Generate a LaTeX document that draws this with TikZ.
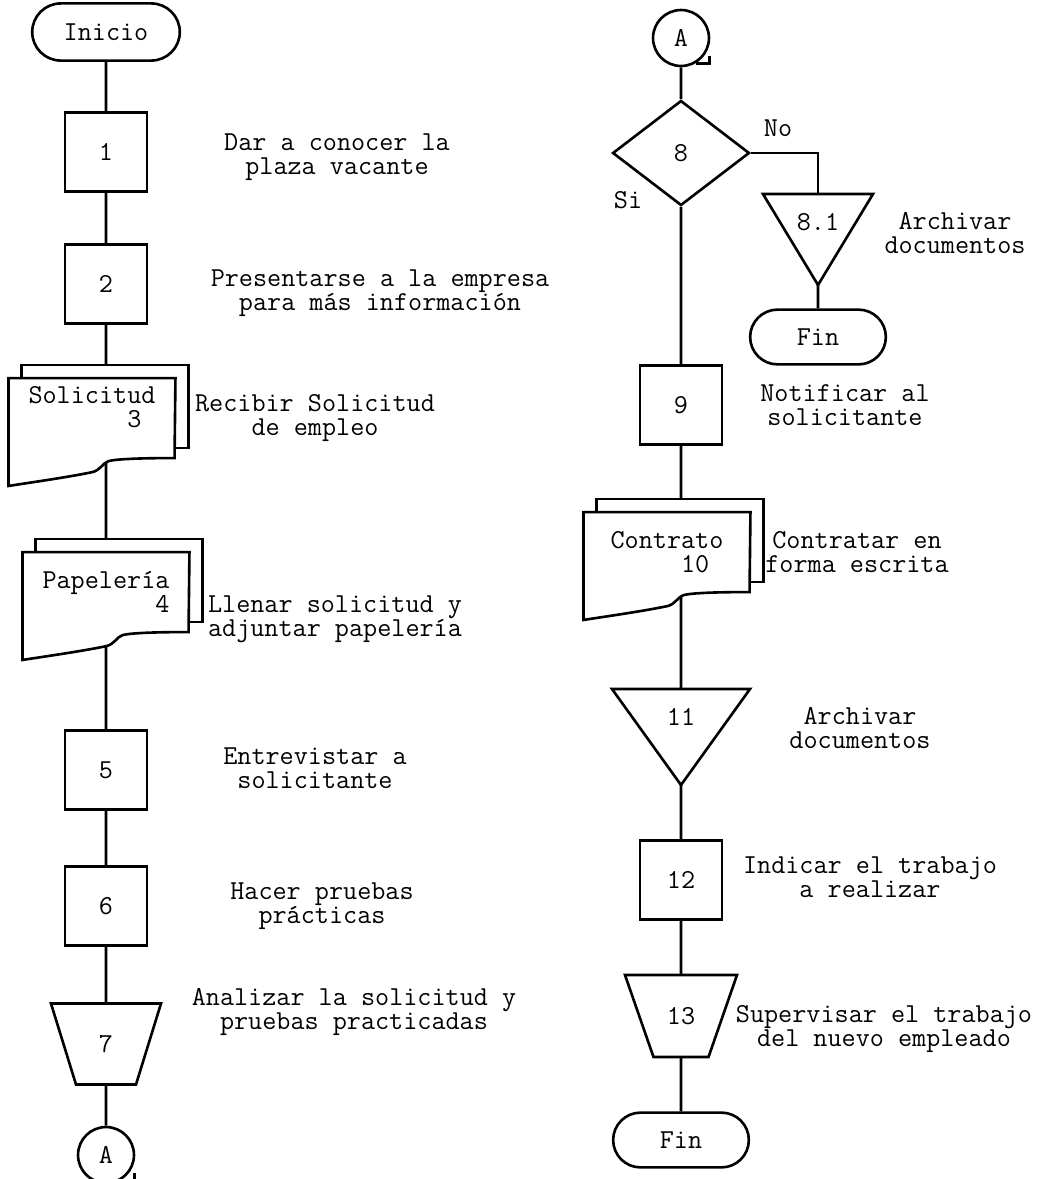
\documentclass[tikz,border=0pt]{standalone}
\usepackage{fontspec}
\usepackage{tikz}
\usetikzlibrary{shapes.geometric, shapes.misc, positioning, calc, backgrounds}

\tikzset{
  flow/.style={line width=1.1pt},
  term/.style={draw, line width=1.1pt, fill=white, rounded rectangle, minimum width=57pt, minimum height=23pt, inner sep=0pt},
  procbox/.style={draw, line width=1.1pt, fill=white, minimum width=34.4pt, minimum height=33.2pt, inner sep=0pt},
  decision/.style={draw, line width=1.1pt, fill=white, diamond, minimum width=57.5pt, minimum height=44.1pt, inner sep=0pt},
  conn/.style={draw, line width=1.1pt, fill=white, circle, minimum size=23.5pt, inner sep=0pt},
  docnode/.style={minimum width=69.7pt, minimum height=44.9pt, inner sep=0pt},
  shapetext/.style={inner sep=0pt},
  doctext/.style={align=left, inner sep=0pt},
  note/.style={align=center, inner sep=0pt},
}

% document sheet (with a second sheet behind it)
\newcommand{\docsheet}[1]{%
  \draw[flow, fill=white] ($(#1.north west)+(13,-13)$) rectangle ($(#1.north east)+(13,70)$);
  \draw[flow, fill=white] (#1.north west) -- (#1.north east) -- ($(#1.north west)+(166,80)$)
    .. controls ($(#1.north west)+(130,80)$) and ($(#1.north west)+(108,81)$) .. ($(#1.north west)+(100,83)$)
    .. controls ($(#1.north west)+(94,85)$) and ($(#1.north west)+(92,92)$) .. ($(#1.north west)+(84,94)$)
    .. controls ($(#1.north west)+(60,99)$) and ($(#1.north west)+(25,104)$) .. (#1.south west) -- cycle;}
% archive triangle and manual operation trapezium
\newcommand{\tridown}[4]{\draw[flow, fill=white] ($(#1)+(-#2,-#3)$) -- ($(#1)+(#2,-#3)$) -- ($(#1)+(0,#4)$) -- cycle;}
\newcommand{\trapdown}[4]{\draw[flow, fill=white] ($(#1)+(-#2,-#4)$) -- ($(#1)+(#2,-#4)$) -- ($(#1)+(#3,#4)$) -- ($(#1)+(-#3,#4)$) -- cycle;}
\newcommand{\conntail}[1]{\draw[flow] (#1.-60) -- ++(14,0) -- ++(0,-7);}

\begin{document}
\begin{tikzpicture}[x=0.42pt, y=-0.42pt, every node/.style={font=\ttfamily\fontsize{11.5}{10}\selectfont}]
  \useasboundingbox (0,0) rectangle (1048,1179);

  % left column
  \node[term, minimum width=62pt, minimum height=24pt] (ini) at (106,32) {Inicio};
  \node[procbox] (b1) at (106,152) {1};
  \node[procbox] (b2) at (106,284) {2};
  \node[docnode] (d3) at (92,432) {};
  \node[docnode] (d4) at (106,606) {};
  \node[procbox] (b5) at (106,770) {5};
  \node[procbox] (b6) at (106,906) {6};
  \node[shapetext] (p7) at (106,1044) {7};
  \node[conn] (ca1) at (106,1155) {A};

  % right column
  \node[conn] (ca2) at (681,38) {A};
  \node[decision] (d8) at (681,153) {8};
  \node[shapetext] (t81) at (818,222) {8.1};
  \node[term] (fin1) at (818,337) {Fin};
  \node[procbox] (b9) at (681,405) {9};
  \node[docnode] (d10) at (667,566) {};
  \node[shapetext] (t11) at (681,717) {11};
  \node[procbox] (b12) at (681,880) {12};
  \node[shapetext] (p13) at (681,1016) {13};
  \node[term] (fin2) at (681,1140) {Fin};

  % descriptions
  \node[note] (l1) at (337,157) {Dar a conocer la\\plaza vacante};
  \node[note] (l2) at (380,293) {Presentarse a la empresa\\para más información};
  \node[note] (l3) at (315,418) {Recibir Solicitud\\de empleo};
  \node[note] (l4) at (335,619) {Llenar solicitud y\\adjuntar papelería};
  \node[note] (l5) at (315,768) {Entrevistar a\\solicitante};
  \node[note] (l6) at (322,906) {Hacer pruebas\\prácticas};
  \node[note] (l7) at (354,1012) {Analizar la solicitud y\\pruebas practicadas};
  \node[note] (lno) at (778,128) {No};
  \node[note] (lsi) at (628,200) {Si};
  \node[note] (l81) at (955,233) {Archivar\\documentos};
  \node[note] (l9) at (845,405) {Notificar al\\solicitante};
  \node[note] (l10) at (857,552) {Contratar en\\forma escrita};
  \node[note] (l11) at (860,728) {Archivar\\documentos};
  \node[note] (l12) at (870,877) {Indicar el trabajo\\a realizar};
  \node[note] (l13) at (884,1029) {Supervisar el trabajo\\del nuevo empleado};

  \begin{scope}[on background layer]
    \draw[flow] (ini) -- (b1) -- (b2) -- (b2 |- d3) -- (b2 |- d4) -- (b5) -- (b6) -- (p7) -- (ca1);
    \draw[flow] (ca2) -- (d8) -- (b9) -- (b9 |- d10) -- (t11) -- (b12) -- (p13) -- (fin2);
    \draw[flow] (d8.east) -| (t81);
    \draw[flow] (t81) -- (fin1);
    \trapdown{p7}{55}{30}{40.5}
    \trapdown{p13}{56}{27.5}{41}
    \tridown{t81}{55}{28}{63}
    \tridown{t11}{69}{28}{68}
    \docsheet{d3}
    \docsheet{d4}
    \docsheet{d10}
  \end{scope}
  \conntail{ca1}
  \conntail{ca2}

  \node[doctext, below=3.4pt of d3.north] (d3t) {Solicitud\\\phantom{Solicit}3};
  \node[doctext, below=8pt of d4.north] (d4t) {Papelería\\\phantom{Papeler\'i}4};
  \node[doctext, below=8pt of d10.north] (d10t) {Contrato\\\phantom{Contr}10};
\end{tikzpicture}
\end{document}
